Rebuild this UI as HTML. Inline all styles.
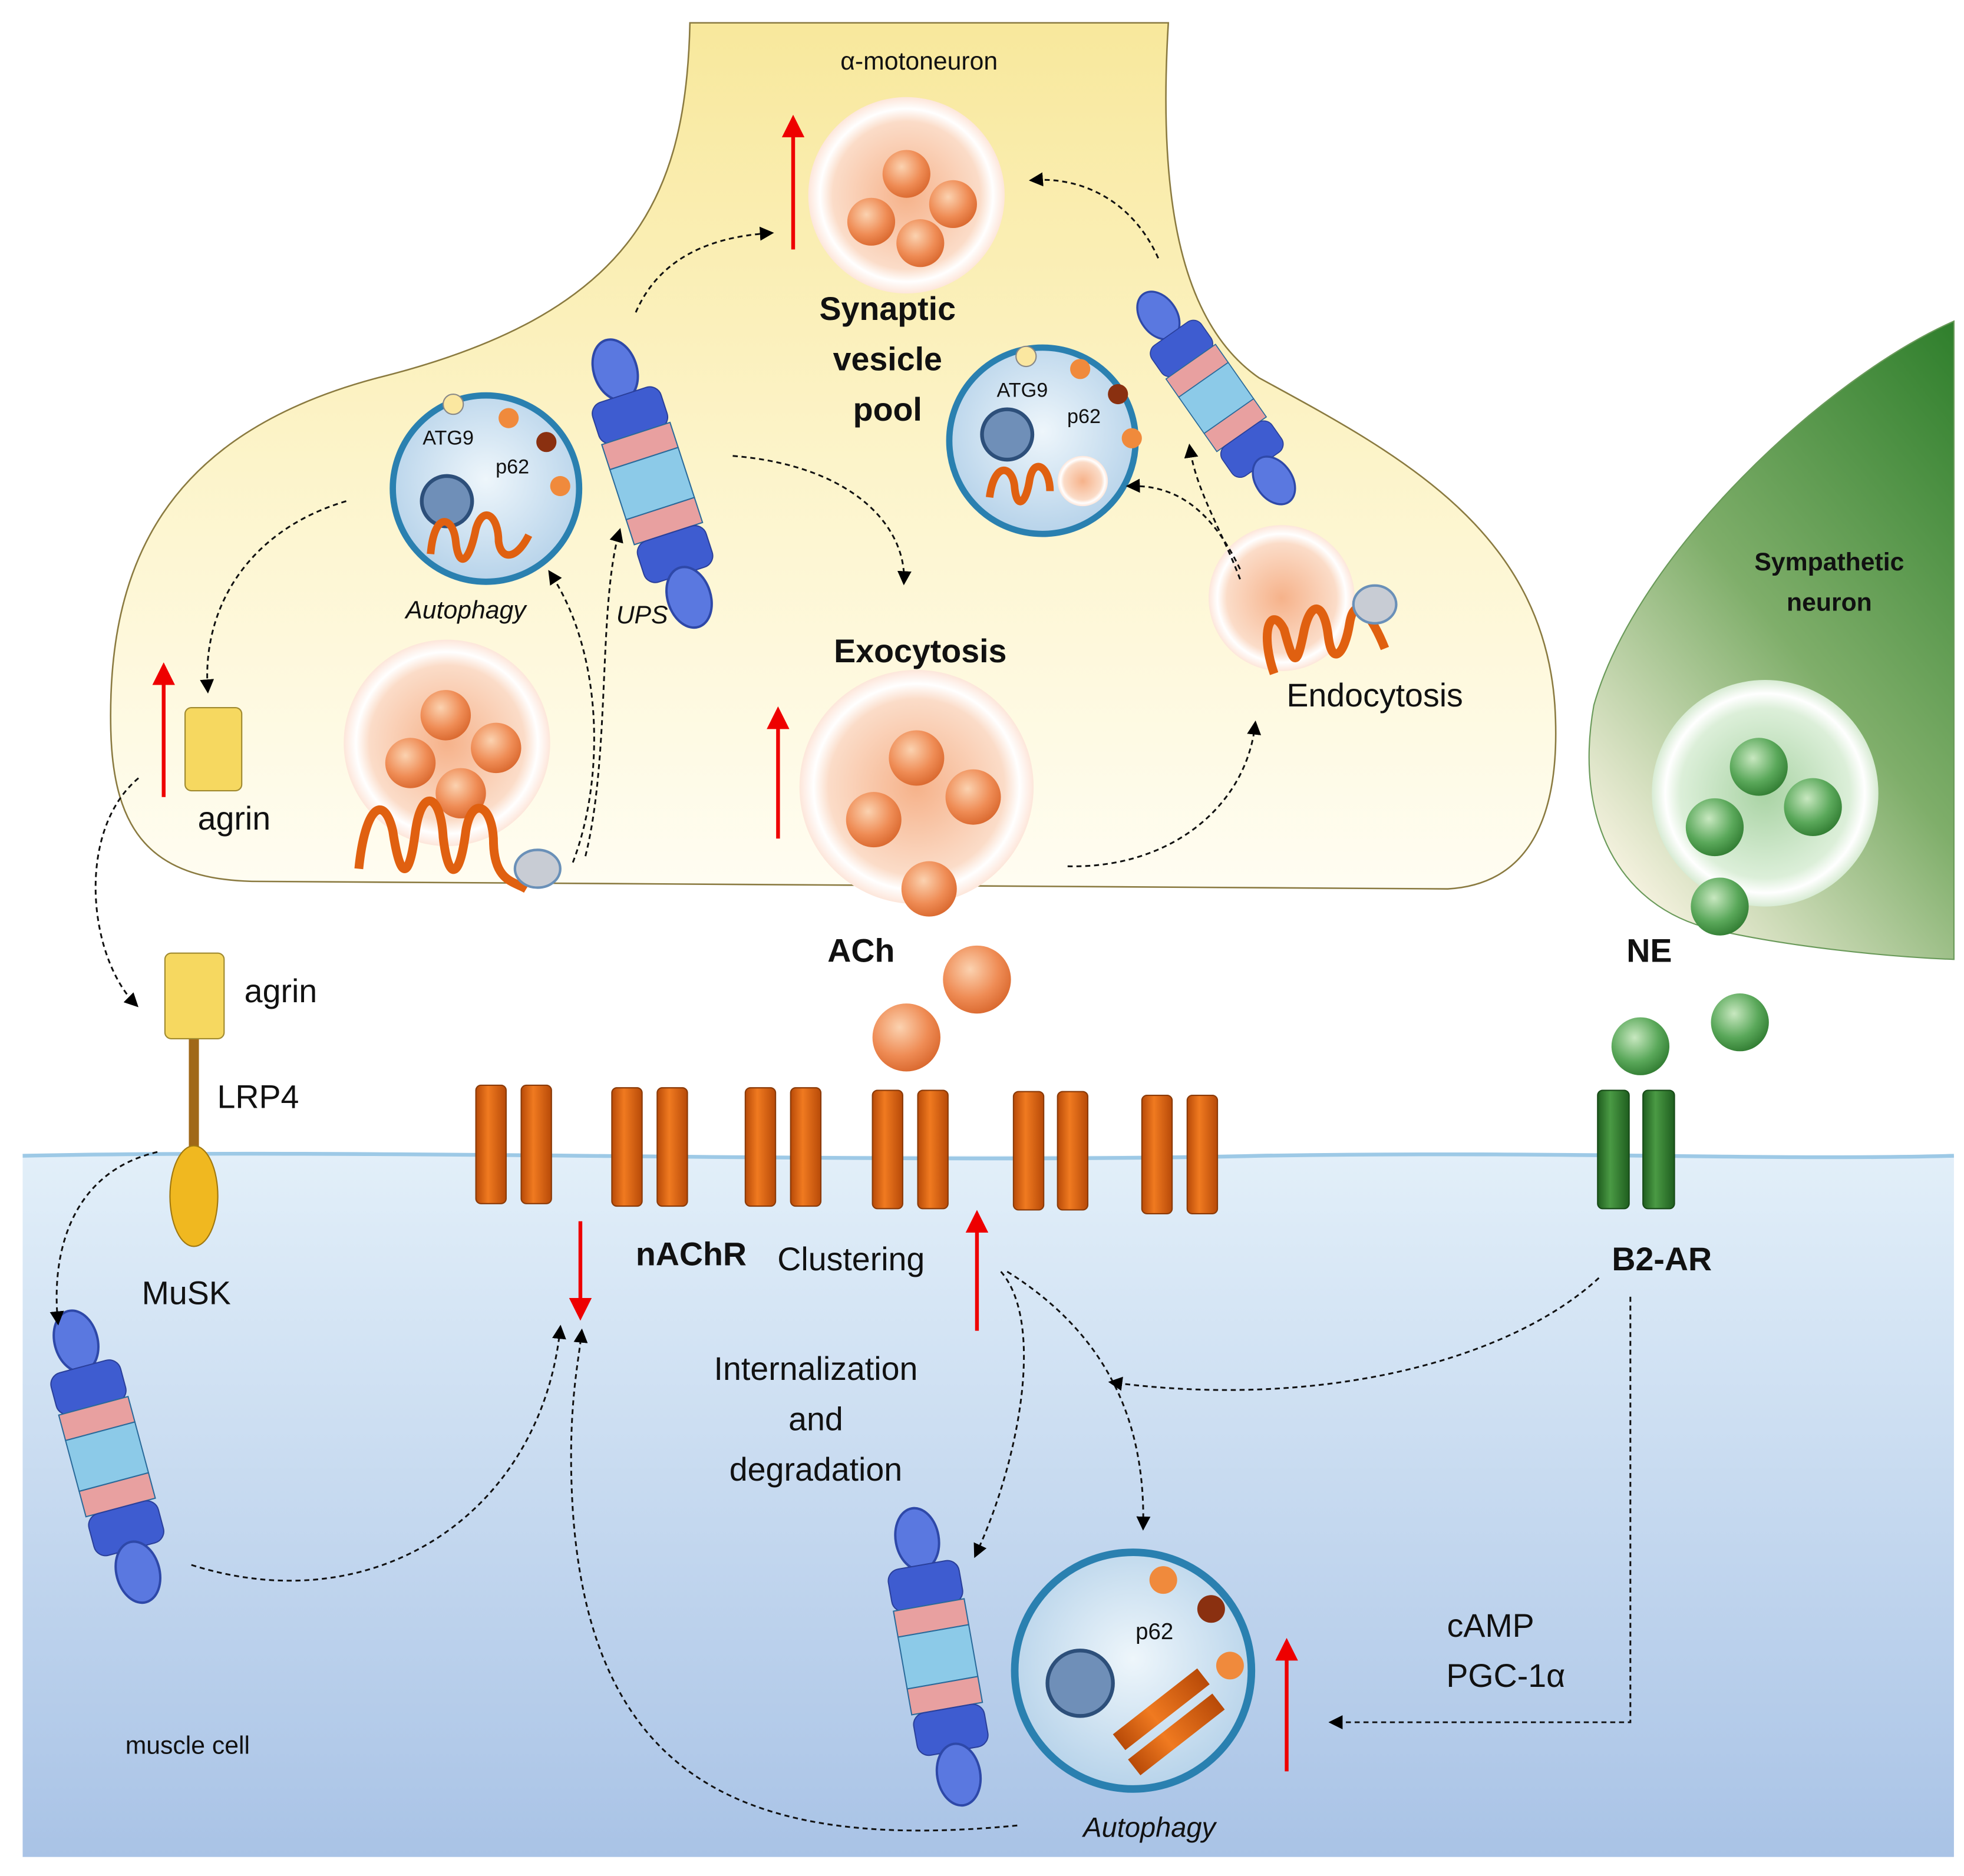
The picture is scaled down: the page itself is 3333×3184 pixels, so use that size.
<!DOCTYPE html>
<html><head><meta charset="utf-8"><style>html,body{margin:0;padding:0;background:#fff}svg{display:block}</style></head>
<body>
<svg width="3333" height="3184" viewBox="0 0 1560 1490" xmlns="http://www.w3.org/2000/svg" font-family="Liberation Sans, DejaVu Sans, sans-serif">
<defs>
<linearGradient id="mus" x1="0" y1="0" x2="0" y2="1"><stop offset="0" stop-color="#e2eff9"/><stop offset="1" stop-color="#a9c3e6"/></linearGradient>
<linearGradient id="neu" x1="0" y1="0" x2="0" y2="1"><stop offset="0" stop-color="#f8e89c"/><stop offset="0.6" stop-color="#fdf6d2"/><stop offset="1" stop-color="#fffdf2"/></linearGradient>
<linearGradient id="grn" x1="1" y1="0" x2="0.3" y2="1"><stop offset="0" stop-color="#2f7f2c"/><stop offset="0.55" stop-color="#7fae6a"/><stop offset="1" stop-color="#f2f0dc"/></linearGradient>
<radialGradient id="ob" cx="0.4" cy="0.35" r="0.7"><stop offset="0" stop-color="#fbd2b0"/><stop offset="0.6" stop-color="#ef8c55"/><stop offset="1" stop-color="#d8662c"/></radialGradient>
<radialGradient id="gb" cx="0.4" cy="0.35" r="0.7"><stop offset="0" stop-color="#c8e8c0"/><stop offset="0.6" stop-color="#5aa85a"/><stop offset="1" stop-color="#2f7a30"/></radialGradient>
<radialGradient id="ves" cx="0.5" cy="0.5" r="0.5"><stop offset="0" stop-color="#f6b28a"/><stop offset="0.75" stop-color="#fbdcc8"/><stop offset="0.88" stop-color="#fff"/><stop offset="1" stop-color="#fde6da"/></radialGradient>
<radialGradient id="gves" cx="0.5" cy="0.5" r="0.5"><stop offset="0" stop-color="#a9d3a4"/><stop offset="0.75" stop-color="#dcefd9"/><stop offset="0.88" stop-color="#fff"/><stop offset="1" stop-color="#d7ebd3"/></radialGradient>
<radialGradient id="aph" cx="0.5" cy="0.45" r="0.55"><stop offset="0" stop-color="#eef6fb"/><stop offset="1" stop-color="#b7d3ea"/></radialGradient>
<linearGradient id="bar" x1="0" y1="0" x2="1" y2="0"><stop offset="0" stop-color="#b84a08"/><stop offset="0.4" stop-color="#f07a20"/><stop offset="1" stop-color="#b84a08"/></linearGradient>
<linearGradient id="gbar" x1="0" y1="0" x2="1" y2="0"><stop offset="0" stop-color="#1f5e1f"/><stop offset="0.4" stop-color="#4a9a44"/><stop offset="1" stop-color="#1f5e1f"/></linearGradient>
<marker id="ah" markerWidth="8" markerHeight="8" refX="6" refY="4" orient="auto"><path d="M0,0 L8,4 L0,8 z" fill="#000"/></marker>
<marker id="rh" markerWidth="6" markerHeight="6" refX="3" refY="3" orient="auto"><path d="M0,0 L6,3 L0,6 z" fill="#e00"/></marker>
<g id="prot">
 <ellipse cx="0" cy="-100" rx="18" ry="26" fill="#5a78e0" stroke="#2e48a8" stroke-width="2"/>
 <rect x="-30" y="-78" width="60" height="36" rx="10" fill="#3e5cd0" stroke="#2a3f9a"/>
 <rect x="-30" y="-44" width="60" height="22" fill="#e8a0a0" stroke="#2a6a9a"/>
 <rect x="-30" y="-22" width="60" height="44" fill="#8ccae8" stroke="#2a6a9a"/>
 <rect x="-30" y="22" width="60" height="22" fill="#e8a0a0" stroke="#2a6a9a"/>
 <rect x="-30" y="44" width="60" height="36" rx="10" fill="#3e5cd0" stroke="#2a3f9a"/>
 <ellipse cx="0" cy="100" rx="18" ry="26" fill="#5a78e0" stroke="#2e48a8" stroke-width="2"/>
</g>
<g id="vp"><circle r="1" fill="url(#ob)"/></g>
</defs>

<!-- muscle -->
<rect x="18" y="918" width="1534" height="557" fill="url(#mus)"/>
<path d="M18,918 C300,912 700,925 1000,918 C1250,914 1400,922 1552,918" stroke="#9dc9e6" stroke-width="3" fill="none"/>

<!-- neuron -->
<path d="M548,18 C545,160 500,250 300,300 C130,345 85,450 88,580 C90,660 120,698 200,700 L1150,706 C1220,702 1240,640 1235,560 C1225,420 1110,360 1000,300 C935,255 920,150 928,18 Z" fill="url(#neu)" stroke="#8a7a40" stroke-width="1.2"/>

<!-- sympathetic -->
<path d="M1552,255 C1450,300 1300,440 1266,560 C1250,650 1285,720 1360,738 C1420,752 1500,760 1552,762 Z" fill="url(#grn)" stroke="#6a9a5a" stroke-width="1"/>

<!-- vesicles -->
<circle cx="720" cy="155" r="78" fill="url(#ves)"/>
<circle cx="720" cy="138" r="19" fill="url(#ob)"/><circle cx="692" cy="176" r="19" fill="url(#ob)"/><circle cx="757" cy="162" r="19" fill="url(#ob)"/><circle cx="731" cy="193" r="19" fill="url(#ob)"/>
<circle cx="355" cy="590" r="82" fill="url(#ves)"/>
<circle cx="354" cy="568" r="20" fill="url(#ob)"/><circle cx="326" cy="606" r="20" fill="url(#ob)"/><circle cx="394" cy="594" r="20" fill="url(#ob)"/><circle cx="366" cy="630" r="20" fill="url(#ob)"/>
<path d="M285,690 C290,640 305,630 312,660 C318,700 325,700 330,660 C335,625 350,630 352,665 C356,700 365,700 370,660 C375,630 392,640 392,670 C393,700 408,700 418,706" stroke="#e06010" stroke-width="7" fill="none"/>
<ellipse cx="427" cy="690" rx="18" ry="15" fill="#c8ccd4" stroke="#6a90b8" stroke-width="2"/>
<circle cx="728" cy="625" r="93" fill="url(#ves)"/>
<circle cx="728" cy="602" r="22" fill="url(#ob)"/><circle cx="694" cy="651" r="22" fill="url(#ob)"/><circle cx="773" cy="633" r="22" fill="url(#ob)"/>
<circle cx="738" cy="706" r="22" fill="url(#ob)"/>
<circle cx="776" cy="778" r="27" fill="url(#ob)"/><circle cx="720" cy="824" r="27" fill="url(#ob)"/>
<circle cx="1018" cy="475" r="58" fill="url(#ves)"/>
<path d="M1012,535 C1000,500 1010,480 1020,500 C1028,530 1030,530 1036,500 C1042,475 1052,480 1055,505 C1058,530 1068,520 1072,495 C1076,470 1090,490 1100,515" stroke="#e06010" stroke-width="7" fill="none"/>
<ellipse cx="1092" cy="480" rx="17" ry="15" fill="#c8ccd4" stroke="#6a90b8" stroke-width="2"/>
<circle cx="1402" cy="630" r="90" fill="url(#gves)"/>
<circle cx="1397" cy="609" r="23" fill="url(#gb)"/><circle cx="1362" cy="657" r="23" fill="url(#gb)"/><circle cx="1440" cy="641" r="23" fill="url(#gb)"/>
<circle cx="1366" cy="720" r="23" fill="url(#gb)"/><circle cx="1303" cy="831" r="23" fill="url(#gb)"/><circle cx="1382" cy="812" r="23" fill="url(#gb)"/>

<!-- autophagosomes -->
<g>
<circle cx="386" cy="388" r="74" fill="url(#aph)" stroke="#2a80b0" stroke-width="5"/>
<circle cx="360" cy="321" r="8" fill="#fbe7a0" stroke="#888"/>
<circle cx="404" cy="332" r="8" fill="#f08a3c"/><circle cx="434" cy="351" r="8" fill="#8a3010"/><circle cx="445" cy="386" r="8" fill="#f08a3c"/>
<circle cx="355" cy="398" r="20" fill="#6f8fb8" stroke="#2d4f7a" stroke-width="3"/>
<path d="M342,440 C345,405 360,410 362,430 C364,450 372,450 378,420 C384,400 396,410 396,430 C398,445 410,445 420,425" stroke="#e06010" stroke-width="6" fill="none"/>
</g>
<g>
<circle cx="828" cy="350" r="74" fill="url(#aph)" stroke="#2a80b0" stroke-width="5"/>
<circle cx="815" cy="283" r="8" fill="#fbe7a0" stroke="#888"/>
<circle cx="858" cy="293" r="8" fill="#f08a3c"/><circle cx="888" cy="313" r="8" fill="#8a3010"/><circle cx="899" cy="348" r="8" fill="#f08a3c"/>
<circle cx="800" cy="345" r="20" fill="#6f8fb8" stroke="#2d4f7a" stroke-width="3"/>
<circle cx="860" cy="382" r="20" fill="url(#ves)"/>
<path d="M786,395 C790,365 805,370 806,388 C808,405 815,400 818,380 C822,362 834,372 834,390" stroke="#e06010" stroke-width="6" fill="none"/>
</g>
<g>
<circle cx="900" cy="1327" r="94" fill="url(#aph)" stroke="#2a80b0" stroke-width="6"/>
<circle cx="924" cy="1255" r="11" fill="#f08a3c"/><circle cx="962" cy="1278" r="11" fill="#8a3010"/><circle cx="977" cy="1323" r="11" fill="#f08a3c"/>
<circle cx="858" cy="1337" r="26" fill="#6f8fb8" stroke="#2d4f7a" stroke-width="3"/>
<rect x="880" y="1350" width="85" height="16" fill="url(#bar)" transform="rotate(-38 922 1358)"/>
<rect x="892" y="1370" width="85" height="16" fill="url(#bar)" transform="rotate(-38 934 1378)"/>
</g>

<!-- proteasomes -->
<use href="#prot" transform="translate(518,384) rotate(-18) scale(0.95)"/>
<use href="#prot" transform="translate(966,316) rotate(-35) scale(0.8)"/>
<use href="#prot" transform="translate(85,1157) rotate(-15) scale(0.95)"/>
<use href="#prot" transform="translate(745,1316) rotate(-10) scale(0.95)"/>

<!-- agrin / LRP4 / MuSK -->
<rect x="147" y="562" width="45" height="66" rx="5" fill="#f6d860" stroke="#a08a30"/>
<rect x="150" y="825" width="8" height="88" fill="#a06818"/>
<rect x="131" y="757" width="47" height="68" rx="5" fill="#f6d860" stroke="#a08a30"/>
<ellipse cx="154" cy="950" rx="19" ry="40" fill="#f0b820" stroke="#a07810"/>

<!-- receptors -->
<g fill="url(#bar)" stroke="#8a3a08" stroke-width="1">
<rect x="378" y="862" width="24" height="94" rx="4"/><rect x="414" y="862" width="24" height="94" rx="4"/>
<rect x="486" y="864" width="24" height="94" rx="4"/><rect x="522" y="864" width="24" height="94" rx="4"/>
<rect x="592" y="864" width="24" height="94" rx="4"/><rect x="628" y="864" width="24" height="94" rx="4"/>
<rect x="693" y="866" width="24" height="94" rx="4"/><rect x="729" y="866" width="24" height="94" rx="4"/>
<rect x="805" y="867" width="24" height="94" rx="4"/><rect x="840" y="867" width="24" height="94" rx="4"/>
<rect x="907" y="870" width="24" height="94" rx="4"/><rect x="943" y="870" width="24" height="94" rx="4"/>
</g>
<g fill="url(#gbar)" stroke="#174a17"><rect x="1269" y="866" width="25" height="94" rx="4"/><rect x="1305" y="866" width="25" height="94" rx="4"/></g>

<!-- red arrows -->
<g stroke="#e00" stroke-width="3" marker-end="url(#rh)">
<line x1="630" y1="198" x2="630" y2="100"/><line x1="130" y1="633" x2="130" y2="535"/>
<line x1="618" y1="666" x2="618" y2="570"/><line x1="776" y1="1057" x2="776" y2="970"/>
<line x1="461" y1="970" x2="461" y2="1040"/><line x1="1022" y1="1407" x2="1022" y2="1310"/>
</g>

<!-- dashed arrows -->
<g stroke="#111" stroke-width="1.4" stroke-dasharray="4,3" fill="none" marker-end="url(#ah)">
<path d="M505,248 Q530,190 612,185"/>
<path d="M920,205 C900,160 860,140 820,143"/>
<path d="M275,398 C200,420 160,480 165,548"/>
<path d="M455,685 C480,620 480,520 437,455"/>
<path d="M465,680 C485,600 475,480 492,422"/>
<path d="M582,362 C680,370 720,420 718,462"/>
<path d="M848,688 C930,690 990,640 997,575"/>
<path d="M985,460 C970,420 950,390 945,355"/>
<path d="M985,452 C960,400 930,385 897,386"/>
<path d="M110,618 C60,660 70,760 108,798"/>
<path d="M125,915 C60,930 40,990 46,1050"/>
<path d="M152,1243 C300,1290 430,1200 445,1055"/>
<path d="M808,1450 C600,1470 470,1420 455,1200 C450,1120 460,1080 462,1058"/>
<path d="M795,1010 C830,1050 810,1160 775,1235"/>
<path d="M800,1010 C880,1060 910,1130 908,1213"/>
<path d="M1270,1015 C1200,1080 1050,1120 883,1098"/>
<path d="M1295,1030 L1295,1368 L1058,1368"/>
</g>

<!-- text -->
<g fill="#111" text-anchor="middle" font-size="26">
<text x="730" y="55" font-size="20">α-motoneuron</text>
<g font-weight="bold"><text x="705" y="254">Synaptic</text><text x="705" y="294">vesicle</text><text x="705" y="334">pool</text>
<text x="731" y="526">Exocytosis</text><text x="684" y="764">ACh</text><text x="1310" y="764">NE</text>
<text x="549" y="1005">nAChR</text><text x="1320" y="1009">B2-AR</text>
<text x="1453" y="453" font-size="20">Sympathetic</text><text x="1453" y="485" font-size="20">neuron</text></g>
<text x="356" y="353" font-size="16">ATG9</text><text x="407" y="376" font-size="16">p62</text>
<text x="812" y="315" font-size="16">ATG9</text><text x="861" y="336" font-size="16">p62</text>
<text x="917" y="1302" font-size="18">p62</text>
<text x="370" y="491" font-size="20" font-style="italic">Autophagy</text>
<text x="510" y="495" font-size="20" font-style="italic">UPS</text>
<text x="913" y="1459" font-size="22" font-style="italic">Autophagy</text>
<text x="1092" y="561">Endocytosis</text>
<text x="186" y="659">agrin</text><text x="223" y="796">agrin</text><text x="205" y="880">LRP4</text><text x="148" y="1036">MuSK</text>
<text x="676" y="1009">Clustering</text>
<text x="648" y="1096">Internalization</text><text x="648" y="1136">and</text><text x="648" y="1176">degradation</text>
<text x="1184" y="1300">cAMP</text><text x="1196" y="1340">PGC-1α</text>
<text x="149" y="1393" font-size="20">muscle cell</text>
</g>
</svg>
</body></html>
